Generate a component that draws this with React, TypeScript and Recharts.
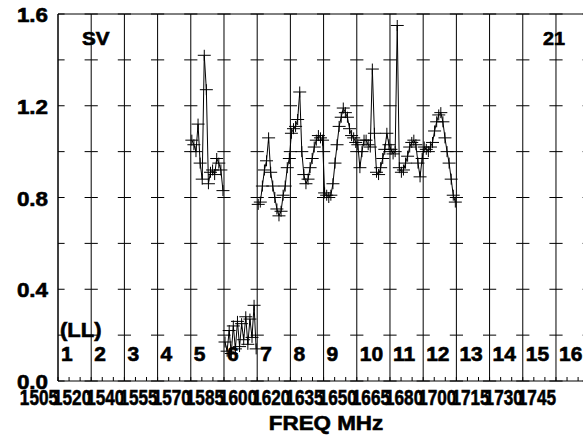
import { LineChart, Line, XAxis, YAxis, CartesianGrid, ReferenceLine } from "recharts"

const FONT = "'Liberation Sans', Arial, Helvetica, sans-serif"

// IF layout: 16 MHz per IF, 16 channels each
const freqStart = 1505
const ifWidth = 16
const xMax = 1761.4

const ifTickLabels = [
  "1505", "1520", "1540", "1555", "1570", "1585", "1600", "1620",
  "1635", "1650", "1665", "1680", "1700", "1715", "1730", "1745",
]
const ifNames = ["1", "2", "3", "4", "5", "6", "7", "8", "9", "10", "11", "12", "13", "14", "15", "16"]
const yTicks = [0, 0.2, 0.4, 0.6, 0.8, 1.0, 1.2, 1.4, 1.6]

// amplitude per channel
const ampIf5 = [1.05, 1.03, 1.0, 1.12, 0.95, 0.88, 1.42, 1.27, 0.86, 0.91, 0.92, 0.9, 0.97, 0.95, 0.92, 0.83]
const lowIf6 = [0.17, 0.13, 0.22, 0.12, 0.24, 0.14, 0.26, 0.15, 0.25, 0.18, 0.28, 0.16, 0.27, 0.19, 0.33, 0.14]
const ampIf7 = [0.77, 0.78, 0.85, 0.92, 0.96, 1.06, 0.91, 0.85, 0.8, 0.75, 0.72, 0.74, 0.81, 0.85, 0.93, 0.97]
const ampIf8 = [1.08, 1.1, 1.11, 1.14, 1.26, 1.0, 0.9, 0.86, 0.88, 0.93, 0.97, 1.02, 1.05, 1.07, 1.06, 1.05]
const ampIf9 = [0.82, 0.81, 0.8, 0.81, 0.86, 0.95, 1.03, 1.11, 1.15, 1.19, 1.17, 1.15, 1.1, 1.07, 1.06, 1.04]
const ampIf10 = [1.03, 0.93, 1.0, 1.05, 1.05, 1.03, 1.02, 1.36, 1.08, 0.91, 0.9, 0.93, 0.97, 1.01, 1.08, 1.03]
const ampIf11 = [1.01, 0.99, 1.0, 1.55, 0.93, 0.91, 0.92, 0.95, 0.98, 1.02, 1.04, 1.05, 1.03, 0.95, 0.89, 0.97]
const ampIf12 = [1.02, 1.01, 1.0, 1.02, 1.04, 1.09, 1.13, 1.16, 1.17, 1.13, 1.06, 1.0, 0.95, 0.88, 0.81, 0.78]

const series: [number, number[], "amp" | "low"][] = [
  [5, ampIf5, "amp"],
  [6, lowIf6, "low"],
  [7, ampIf7, "amp"],
  [8, ampIf8, "amp"],
  [9, ampIf9, "amp"],
  [10, ampIf10, "amp"],
  [11, ampIf11, "amp"],
  [12, ampIf12, "amp"],
]

const data: { freq: number; amp: number | null; low: number | null }[] = []
series.forEach(([ifNum, vals, key]) => {
  vals.forEach((v, k) => {
    data.push({
      freq: freqStart + (ifNum - 1) * ifWidth + k + 0.5,
      amp: key === "amp" ? v : null,
      low: key === "low" ? v : null,
    })
  })
})

const majorFreqs = ifTickLabels.map((_, i) => freqStart + i * ifWidth)
const minorTicks: number[] = []
for (let j = 0; freqStart + (j * ifWidth) / 3 <= xMax; j++) minorTicks.push(freqStart + (j * ifWidth) / 3)

// heavy lettering, stretched or squeezed horizontally to fit the original plot
const T = ({ x, y, anchor = "start", size = 20, sx = 1, children }: any) => (
  <text
    transform={`translate(${x},${y}) scale(${sx},1)`}
    textAnchor={anchor}
    fill="#000"
    stroke="#000"
    strokeWidth={0.6}
    style={{ fontFamily: FONT, fontWeight: "bold", fontSize: size }}
  >
    {children}
  </text>
)

const crossDot = (p: any) => {
  const { cx, cy, index, value } = p
  if (value == null || cx == null || cy == null) return <g key={`d-${index}`} />
  return (
    <path
      key={`d-${index}`}
      d={`M${cx - 6.5},${cy}H${cx + 6.5}M${cx},${cy - 5.5}V${cy + 5.5}`}
      stroke="#000"
      strokeWidth={1}
      fill="none"
    />
  )
}

const BottomTick = (p: any) => {
  const { x, y, index } = p
  const major = index % 3 === 0 ? index / 3 : -1
  return (
    <g>
      <line x1={x} x2={x} y1={y - 4} y2={y} stroke="#000" />
      {major >= 0 && major < ifTickLabels.length && (
        <T x={x} y={y + 24} anchor="end" size={22} sx={0.78}>
          {ifTickLabels[major]}
        </T>
      )}
    </g>
  )
}

const LeftTick = (p: any) => {
  const { y, payload } = p
  const v = payload.value as number
  if (Math.round(v * 10) % 4 !== 0) return <g />
  return (
    <T x={48} y={y + 8} anchor="end" size={20} sx={1.12}>
      {v.toFixed(1)}
    </T>
  )
}

const AxisTitle = (p: any) => {
  const { viewBox } = p
  return (
    <T x={viewBox.x + viewBox.width / 2 + 2} y={viewBox.y + viewBox.height - 5} anchor="middle" sx={1.12}>
      FREQ MHz
    </T>
  )
}

export default function App() {
  return (
    <div style={{ position: "absolute", left: 0, top: 0, width: 583, height: 435, overflow: "hidden", background: "#fff" }}>
      <LineChart width={600} height={435} data={data} margin={{ top: 14, right: 10, bottom: 0, left: 0 }}>
        <CartesianGrid vertical={false} stroke="#000" strokeDasharray="6.6 20 6.6 0" />
        <XAxis
          dataKey="freq"
          type="number"
          domain={[freqStart, xMax]}
          allowDataOverflow
          ticks={minorTicks}
          interval={0}
          tickLine={false}
          tickSize={0}
          tickMargin={0}
          axisLine={{ stroke: "#000" }}
          height={54}
          tick={<BottomTick />}
          label={<AxisTitle />}
        />
        <XAxis
          xAxisId="top"
          orientation="top"
          mirror
          dataKey="freq"
          type="number"
          domain={[freqStart, xMax]}
          allowDataOverflow
          ticks={minorTicks}
          interval={0}
          tickSize={4}
          tick={false}
          tickLine={{ stroke: "#000" }}
          axisLine={{ stroke: "#000" }}
        />
        <YAxis
          type="number"
          domain={[0, 1.6]}
          ticks={yTicks}
          interval={0}
          width={58}
          tickLine={false}
          axisLine={{ stroke: "#000" }}
          tick={<LeftTick />}
        />
        {majorFreqs.map((f, i) => (
          <ReferenceLine
            key={`if-${i}`}
            x={f}
            stroke="#000"
            strokeWidth={1}
            label={(lp: any) => (
              <T x={lp.viewBox.x + 3} y={lp.viewBox.y + lp.viewBox.height - 20} sx={1.05}>
                {ifNames[i]}
              </T>
            )}
          />
        ))}
        <Line
          dataKey="amp"
          type="linear"
          stroke="#000"
          strokeWidth={1}
          dot={crossDot}
          connectNulls={false}
          isAnimationActive={false}
        />
        <Line
          dataKey="low"
          type="linear"
          stroke="#000"
          strokeWidth={1}
          dot={crossDot}
          connectNulls={false}
          isAnimationActive={false}
        />
      </LineChart>
      <svg width={583} height={435} style={{ position: "absolute", left: 0, top: 0, pointerEvents: "none" }}>
        <T x={82} y={45} size={18} sx={1.15}>SV</T>
        <T x={543} y={45} size={18} sx={1.1}>21</T>
        <T x={60} y={337} sx={1.1}>(LL)</T>
      </svg>
    </div>
  )
}
